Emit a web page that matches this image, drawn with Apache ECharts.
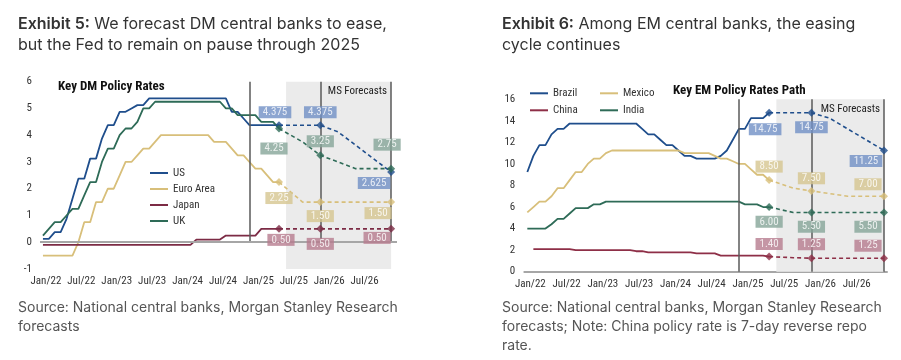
<!DOCTYPE html>
<html><head><meta charset="utf-8">
<script src="https://cdn.jsdelivr.net/npm/echarts@6/dist/echarts.min.js"></script>
<style>html,body{margin:0;padding:0;background:#fff}#c{width:901px;height:360px}</style>
</head><body><div id="c"></div>
<script>
// ---- Data (month index 0 = Jan 2022) ----
const tickMonths = [0, 6, 12, 18, 24, 30, 36, 42, 48, 54];
const tickLabels = ['Jan/22','Jul/22','Jan/23','Jul/23','Jan/24','Jul/24','Jan/25','Jul/25','Jan/26','Jul/26'];
const dividerMonths = [35, 47, 59];
const forecastStart = 41.2, forecastEnd = 59;
const fcX = [40, 44, 47, 50, 53, 56, 59];
const keyIdx = [0, 2, 6];

const usHist = [0.125,0.125,0.375,0.375,0.875,1.625,2.375,2.375,3.125,3.125,3.875,4.375,4.375,4.875,4.875,5.0,5.125,5.125,5.375,
  5.375,5.375,5.375,5.375,5.375,5.375,5.375,5.375,5.375,5.375,5.375,5.375,5.375,
  4.875,4.875,4.625,4.375,4.375,4.375,4.375,4.375,4.375];
const ukHist = [0.25,0.5,0.75,0.75,1.0,1.25,1.25,1.75,2.25,2.25,3.0,3.5,3.5,4.0,4.25,4.25,4.5,5.0,5.0,
  5.25,5.25,5.25,5.25,5.25,5.25,5.25,5.25,5.25,5.25,5.25,5.25,
  5.0,5.0,4.75,4.75,4.75,4.75,4.5,4.5,4.5,4.25];
const eaHist = [-0.5,-0.5,-0.5,-0.5,-0.5,-0.5,0.0,0.75,0.75,1.5,1.5,2.0,2.0,2.5,3.0,3.0,3.25,3.5,3.5,3.75,
  4.0,4.0,4.0,4.0,4.0,4.0,4.0,4.0,4.0,
  3.75,3.75,3.75,3.5,3.25,3.25,3.0,2.75,2.75,2.5,2.25,2.25];
const jpHist = [-0.1,-0.1,-0.1,-0.1,-0.1,-0.1,-0.1,-0.1,-0.1,-0.1,-0.1,-0.1,-0.1,-0.1,-0.1,-0.1,-0.1,-0.1,-0.1,-0.1,-0.1,-0.1,-0.1,-0.1,-0.1,-0.1,
  0.1,0.1,0.1,0.1,0.1,0.25,0.25,0.25,0.25,0.25,0.25,0.5,0.5,0.5,0.5];
const usFc = [4.375, 4.375, 4.375, 4.125, 3.625, 3.125, 2.625];
const ukFc = [4.25, 3.75, 3.25, 3.0, 2.75, 2.75, 2.75];
const eaFc = [2.25, 1.5, 1.5, 1.5, 1.5, 1.5, 1.5];
const jpFc = [0.5, 0.5, 0.5, 0.5, 0.5, 0.5, 0.5];

const brHist = [9.25,10.75,11.75,11.75,12.75,13.25,13.25,
  13.75,13.75,13.75,13.75,13.75,13.75,13.75,13.75,13.75,13.75,13.75,13.75,
  13.25,12.75,12.75,12.25,11.75,11.75,11.25,10.75,10.75,10.5,10.5,10.5,10.5,10.75,11.25,12.25,13.25,13.25,14.25,14.25,14.25,14.75];
const mxHist = [5.5,6.0,6.5,6.5,7.0,7.75,7.75,8.5,9.25,9.25,10.0,10.5,10.5,11.0,
  11.25,11.25,11.25,11.25,11.25,11.25,11.25,11.25,11.25,11.25,11.25,11.25,
  11.0,11.0,11.0,11.0,11.0,10.75,10.5,10.5,10.25,10.0,10.0,9.5,9.0,9.0,8.5];
const inHist = [4.0,4.0,4.0,4.0,4.4,4.9,4.9,5.4,5.9,5.9,5.9,6.25,6.25,
  6.5,6.5,6.5,6.5,6.5,6.5,6.5,6.5,6.5,6.5,6.5,6.5,6.5,6.5,6.5,6.5,6.5,6.5,6.5,6.5,6.5,6.5,6.5,
  6.25,6.25,6.25,6.0,6.0];
const cnHist = [null,2.1,2.1,2.1,2.1,2.1,2.1,2.1,2.0,2.0,2.0,2.0,2.0,2.0,2.0,2.0,2.0,2.0,1.9,1.9,
  1.8,1.8,1.8,1.8,1.8,1.8,1.8,1.8,1.7,1.7,1.7,1.7,1.5,1.5,1.5,1.5,1.5,1.5,1.5,1.5,1.4];
const brFc = [14.75, 14.75, 14.75, 14.25, 13.25, 12.25, 11.25];
const mxFc = [8.5, 7.75, 7.5, 7.25, 7.0, 7.0, 7.0];
const inFc = [6.0, 5.5, 5.5, 5.5, 5.5, 5.5, 5.5];
const cnFc = [1.4, 1.3, 1.25, 1.25, 1.25, 1.25, 1.25];

// ---- Styles ----
const NARROW = "'Liberation Sans Narrow', 'Arial Narrow', 'Roboto Condensed', Roboto, sans-serif";
const C = {
  blue: {line:'#1F4E8C', box:'#7090C6'},
  green:{line:'#2E6B57', box:'#86A598'},
  gold: {line:'#D8BF7A', box:'#D6C690'},
  plum: {line:'#7C2B45', box:'#B77C8E'},
  red:  {line:'#8E2F47', box:'#B77C8E'}
};
function fmt(v){ const h = v*100; return Math.abs(h-Math.round(h))<1e-6 ? v.toFixed(2) : v.toFixed(3); }

const series = [];
function addCountry(g, name, hist, fc, col, offsets){
  const hd = [];
  hist.forEach((v,i)=>{ if(v!==null) hd.push([i,v]); });
  series.push({type:'line', name:name, xAxisIndex:g, yAxisIndex:g, data:hd, symbol:'none', showSymbol:false,
    lineStyle:{color:col.line, width:1.8}, itemStyle:{color:col.line}, z:3, silent:true});
  series.push({type:'line', name:name+' fc', xAxisIndex:g, yAxisIndex:g, data:fcX.map((x,i)=>[x,fc[i]]), symbol:'none', showSymbol:false,
    lineStyle:{color:col.line, width:1.6, type:[4,3]}, itemStyle:{color:col.line}, z:3, silent:true});
  series.push({type:'scatter', name:name+' key', xAxisIndex:g, yAxisIndex:g, symbol:'diamond', symbolSize:8,
    itemStyle:{color:col.line}, z:5, silent:true,
    data:keyIdx.map((k,j)=>({value:[fcX[k], fc[k]], label:{offset:offsets[j]}})),
    label:{show:true, position:'inside', formatter:p=>fmt(p.value[1]), color:'#fff', fontFamily:NARROW, fontSize:11,
      lineHeight:11, backgroundColor:col.box, padding:[1,4,0,4]}});
}
function addBackground(g, ymin, ymax, zeroLine){
  const ml = dividerMonths.map(x=>[{coord:[x,ymin]},{coord:[x,ymax]}]);
  if (zeroLine) ml.push({yAxis:0, lineStyle:{color:'#A6A6A6', width:2, type:'solid'}});
  series.push({type:'line', name:'bg'+g, xAxisIndex:g, yAxisIndex:g, data:[], z:1, silent:true,
    markArea:{silent:true, itemStyle:{color:'#EBEBEB'},
      label:{show:true, position:'insideTopRight', distance:4, color:'#222', fontFamily:NARROW, fontSize:11},
      data:[[{xAxis:forecastStart, name:'MS Forecasts'},{xAxis:forecastEnd}]]},
    markLine:{silent:true, symbol:'none', label:{show:false}, lineStyle:{color:'#5A5A5A', width:1.5, type:'solid'}, data:ml}
  });
}
addBackground(0, 0, 6, true);
addBackground(1, 0, 16, false);
addCountry(0, 'US', usHist, usFc, C.blue, [[-4,-13],[0,-13],[-17,11]]);
addCountry(0, 'Euro Area', eaHist, eaFc, C.gold, [[0,16],[0,14],[-13,11]]);
addCountry(0, 'Japan', jpHist, jpFc, C.plum, [[2,11],[0,15],[-14,9]]);
addCountry(0, 'UK', ukHist, ukFc, C.green, [[-5,20],[0,-14],[-4,-24]]);
addCountry(1, 'Brazil', brHist, brFc, C.blue, [[-4,16.5],[0,14.5],[-18,10.5]]);
addCountry(1, 'Mexico', mxHist, mxFc, C.gold, [[0,-13.5],[0,-12.6],[-16,-12]]);
addCountry(1, 'China', cnHist, cnFc, C.red, [[0,-12.6],[0,-14],[-16,-12.5]]);
addCountry(1, 'India', inHist, inFc, C.green, [[0,14.7],[0,14.3],[-16,14.3]]);

function xAxis(g, min, max, showLine){
  return {type:'value', gridIndex:g, min:min, max:max, splitLine:{show:false}, axisTick:{show:false},
    axisLine:{show:showLine, onZero:false, lineStyle:{color:'#A6A6A6', width:2}},
    axisLabel:{customValues:tickMonths, formatter:v=>tickLabels[tickMonths.indexOf(v)] || '', color:'#333',
      fontFamily:NARROW, fontSize:11, margin:7, padding:[0,0,0,6]}};
}
function yAxis(g, min, max, interval, margin){
  return {type:'value', gridIndex:g, min:min, max:max, interval:interval, splitLine:{show:false}, axisTick:{show:false},
    axisLine:{show:false}, axisLabel:{color:'#333', fontFamily:NARROW, fontSize:11, margin:margin}};
}
const legendBase = {orient:'vertical', padding:0, itemWidth:18, itemHeight:2, icon:'rect', itemGap:4, selectedMode:false,
  textStyle:{color:'#333', fontFamily:NARROW, fontSize:11, lineHeight:12}};

const titleText = {fontFamily:'Inter', fontSize:16, color:'#333', lineHeight:21, fontWeight:'normal',
  rich:{b:{fontFamily:'Inter', fontSize:16, color:'#333', lineHeight:21, fontWeight:600}}};
const srcText = {fontFamily:'Inter', fontSize:14, color:'#555', lineHeight:19, fontWeight:'normal'};

const option = {
  animation:false,
  backgroundColor:'#fff',
  title:[
    {text:'{b|Exhibit 5:} We forecast DM central banks to ease,\nbut the Fed to remain on pause through 2025', left:18, top:13.5, padding:0, textStyle:titleText},
    {text:'{b|Exhibit 6:} Among EM central banks, the easing\ncycle continues', left:502, top:13.5, padding:0, textStyle:titleText},
    {text:'Source: National central banks, Morgan Stanley Research\nforecasts', left:18, top:298.5, padding:0, textStyle:srcText},
    {text:'Source: National central banks, Morgan Stanley Research\nforecasts; Note: China policy rate is 7-day reverse repo\nrate.', left:502, top:298.5, padding:0, textStyle:srcText},
    {text:'Key DM Policy Rates', left:58, top:80, padding:0, textStyle:{fontFamily:NARROW, fontSize:13, fontWeight:'bold', color:'#111'}},
    {text:'Key EM Policy Rates Path', left:673, top:84, padding:0, textStyle:{fontFamily:NARROW, fontSize:13, fontWeight:'bold', color:'#111'}}
  ],
  legend:[
    Object.assign({}, legendBase, {left:150, top:167, data:['US','Euro Area','Japan','UK']}),
    Object.assign({}, legendBase, {left:530, top:87.3, itemGap:5, data:['Brazil','China']}),
    Object.assign({}, legendBase, {left:600, top:87.3, itemGap:5, data:['Mexico','India']})
  ],
  grid:[
    {left:40, right:504, top:81.7, bottom:91},
    {left:524.3, right:14, top:99.3, bottom:88.3}
  ],
  xAxis:[xAxis(0, -0.5, 60, false), xAxis(1, -0.5, 59.5, true)],
  yAxis:[yAxis(0, -1, 6, 1, 8), yAxis(1, 0, 16, 2, 9)],
  series:series
};
const chart = echarts.init(document.getElementById('c'), null, {renderer:'canvas'});
chart.setOption(option);
</script></body></html>
